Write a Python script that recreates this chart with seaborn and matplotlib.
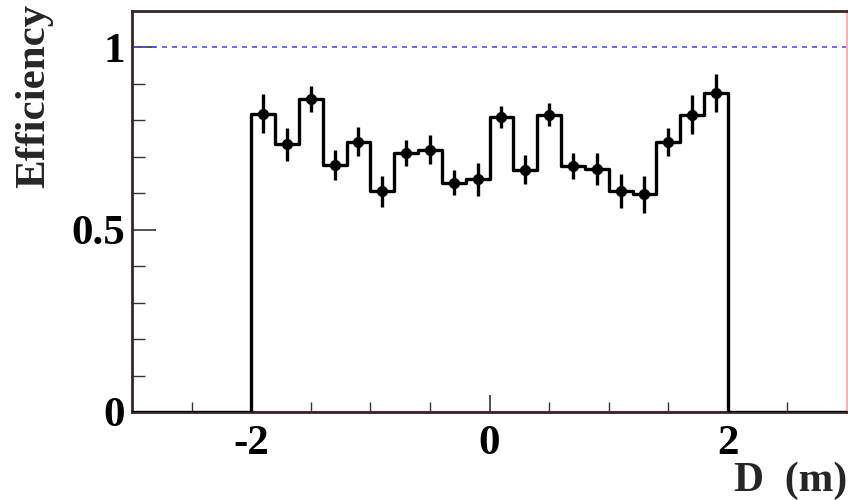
import numpy as np
import pandas as pd
import matplotlib
matplotlib.use("Agg")
import matplotlib.pyplot as plt
import seaborn as sns

# Data
bin_centers = [-1.9, -1.7, -1.5, -1.3, -1.1, -0.9, -0.7, -0.5, -0.3, -0.1,
               0.1, 0.3, 0.5, 0.7, 0.9, 1.1, 1.3, 1.5, 1.7, 1.9]
efficiency = [0.818, 0.734, 0.858, 0.677, 0.742, 0.605, 0.711, 0.720, 0.629, 0.638,
              0.809, 0.665, 0.816, 0.674, 0.666, 0.606, 0.597, 0.741, 0.816, 0.875]
errors = [0.053, 0.046, 0.035, 0.041, 0.039, 0.042, 0.036, 0.041, 0.035, 0.045,
          0.030, 0.039, 0.031, 0.036, 0.044, 0.046, 0.050, 0.039, 0.053, 0.052]
bin_edges = [round(-3 + 0.2 * i, 1) for i in range(31)]
x_ticks = [-2, 0, 2]
x_ticklabels = ["-2", "0", "2"]
y_ticks = [0, 0.5, 1]
y_ticklabels = ["0", "0.5", "1"]

df = pd.DataFrame({"D": bin_centers, "eff": efficiency, "err": errors})

sns.set_theme(style="white")
plt.rcParams["font.family"] = ["Liberation Serif", "DejaVu Serif"]
plt.rcParams["font.weight"] = "bold"
plt.rcParams["axes.unicode_minus"] = False

fig = plt.figure(figsize=(8.48, 5.0), dpi=100)
ax = fig.add_axes([132 / 848, 1 - 412 / 500, (847 - 132) / 848, (412 - 11) / 500])

# reference lines
ax.axhline(1.0, color="#5050ff", lw=1.2, ls=(0, (3, 3)), zorder=1)
ax.axhline(0.0, color="#ff6060", lw=1.5, zorder=1)

# step histogram
sns.histplot(data=df, x="D", weights="eff", bins=bin_edges, element="step",
             fill=False, color="black", linewidth=2.4, ax=ax, zorder=3)

# points with error bars
ax.errorbar(df["D"], df["eff"], yerr=df["err"], fmt="none", ecolor="black",
            elinewidth=2.4, capsize=0, zorder=4)
sns.scatterplot(data=df, x="D", y="eff", color="black", s=55, edgecolor="black",
                ax=ax, zorder=5)

ax.set_xlim(-3, 3)
ax.set_ylim(0, 1.1)

ax.set_xticks(x_ticks)
ax.set_xticklabels(x_ticklabels)
ax.set_xticks(np.arange(-2.5, 3.0, 0.5), minor=True)
ax.set_yticks(y_ticks)
ax.set_yticklabels(y_ticklabels)
ax.set_yticks(np.arange(0.1, 1.1, 0.1), minor=True)

ax.tick_params(axis="both", which="both", bottom=True, left=True, top=False,
               right=False, direction="in")
ax.tick_params(axis="y", which="major", length=17, width=1.2,
               colors="#333333", labelcolor="black", labelsize=31, pad=5)
ax.tick_params(axis="x", which="major", length=12, width=1.2,
               colors="#333333", labelcolor="black", labelsize=31, pad=9)
ax.tick_params(axis="y", which="minor", length=9, width=1.0, colors="#333333")
ax.tick_params(axis="x", which="minor", length=7, width=1.0, colors="#333333")
for lbl in ax.get_xticklabels() + ax.get_yticklabels():
    lbl.set_fontweight("bold")

for side in ["left", "bottom", "top"]:
    ax.spines[side].set_color("#3a2424")
    ax.spines[side].set_linewidth(2.0)
ax.spines["right"].set_color("#ffb0b0")
ax.spines["right"].set_linewidth(1.5)

ax.set_xlabel("")
ax.set_ylabel("")
fig.text(847 / 848, 1 - 500 / 500, "D  (m)", ha="right", va="bottom",
         fontsize=30, fontweight="bold")
fig.text(34 / 848, 1 - 4 / 500, "Efficiency", ha="center", va="top",
         rotation=90, fontsize=31, fontweight="bold")

fig.savefig("out.png", dpi=100)
